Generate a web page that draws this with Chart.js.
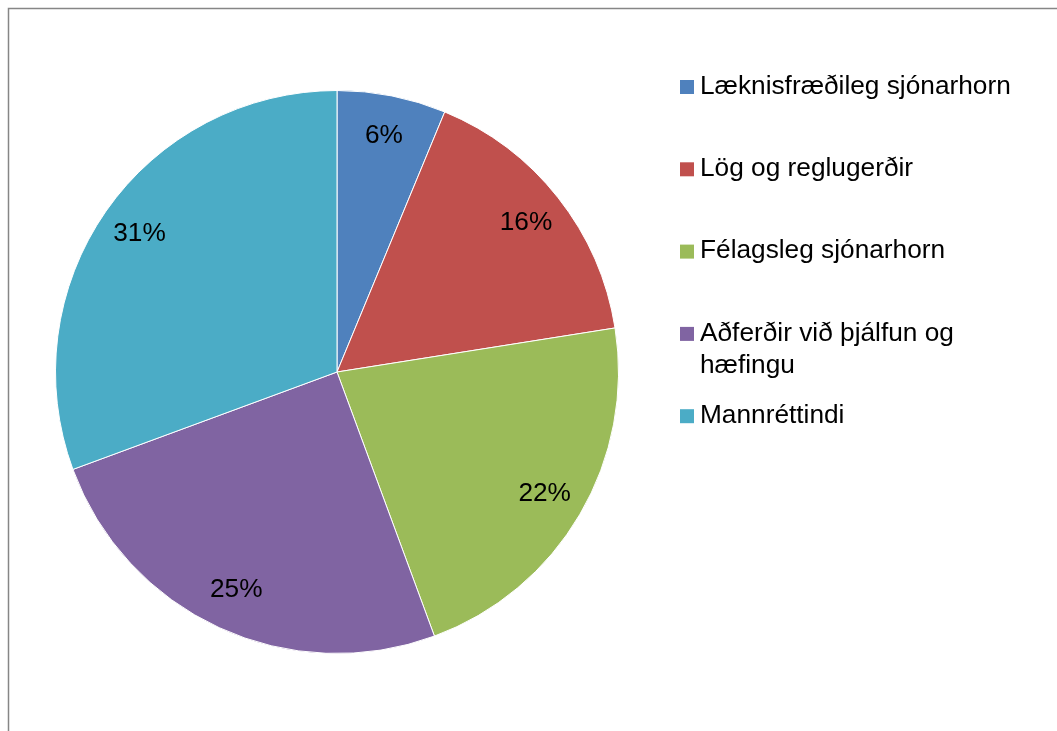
<!DOCTYPE html>
<html>
<head>
<meta charset="utf-8">
<script src="https://cdn.jsdelivr.net/npm/chart.js@4/dist/chart.umd.min.js"></script>
<style>
  html, body { margin: 0; padding: 0; background: #fff; }
  #wrap { width: 1057px; height: 731px; position: relative; }
</style>
</head>
<body>
<div id="wrap"><canvas id="grafico" width="1057" height="731"></canvas></div>
<script>
// Dados do gráfico
const flokkar = ['Læknisfræðileg sjónarhorn', 'Lög og reglugerðir', 'Félagsleg sjónarhorn', 'Aðferðir við þjálfun og hæfingu', 'Mannréttindi'];
const flokkarLinur = [['Læknisfræðileg sjónarhorn'], ['Lög og reglugerðir'], ['Félagsleg sjónarhorn'], ['Aðferðir við þjálfun og', 'hæfingu'], ['Mannréttindi']];
const gildi = [10, 26, 35, 40, 49];
const litir = ['#4F81BD', '#C0504D', '#9BBB59', '#8064A2', '#4BACC6'];

const leturgerd = '25px "Liberation Sans", Arial, sans-serif';
const teygja = 1.05; // letrið í frumritinu er aðeins breiðara

function skrifa(ctx, txt, x, y) {
    ctx.save();
    ctx.translate(x, y);
    ctx.scale(teygja, 1);
    ctx.fillText(txt, 0, 0);
    ctx.restore();
}

// Ramminn kringum myndina
const rammi = {
    id: 'rammi',
    beforeDraw(chart) {
        const ctx = chart.ctx;
        ctx.save();
        ctx.strokeStyle = '#868686';
        ctx.lineWidth = 1.5;
        ctx.strokeRect(8.5, 8.5, 1200, 900);
        ctx.restore();
    }
};

// Prósentur inni í sneiðunum
const prosentur = {
    id: 'prosentur',
    afterDatasetsDraw(chart) {
        const ctx = chart.ctx;
        const meta = chart.getDatasetMeta(0);
        const samtals = gildi.reduce((a, b) => a + b, 0);
        ctx.save();
        ctx.font = leturgerd;
        ctx.fillStyle = '#000';
        ctx.textAlign = 'center';
        ctx.textBaseline = 'middle';
        meta.data.forEach((arc, i) => {
            const p = arc.getProps(['x', 'y', 'startAngle', 'endAngle', 'outerRadius'], true);
            const mid = (p.startAngle + p.endAngle) / 2;
            const r = p.outerRadius * 0.855;
            const txt = Math.round(gildi[i] / samtals * 100) + '%';
            skrifa(ctx, txt, p.x + Math.cos(mid) * r, p.y + Math.sin(mid) * r);
        });
        ctx.restore();
    }
};

// Skýringar til hægri
const skyringar = {
    id: 'skyringar',
    afterDraw(chart) {
        const ctx = chart.ctx;
        ctx.save();
        ctx.font = leturgerd;
        ctx.textBaseline = 'middle';
        flokkarLinur.forEach((linur, i) => {
            const y = 87 + i * 82.3;
            ctx.fillStyle = litir[i];
            ctx.fillRect(680, y - 7, 14, 14);
            ctx.fillStyle = '#000';
            linur.forEach((lina, j) => {
                skrifa(ctx, lina, 700, y + j * 32);
            });
        });
        ctx.restore();
    }
};

const ctx = document.getElementById('grafico').getContext('2d');
new Chart(ctx, {
    type: 'pie',
    data: {
        labels: flokkar,
        datasets: [{
            data: gildi,
            backgroundColor: litir,
            borderColor: '#ffffff',
            borderWidth: 1
        }]
    },
    options: {
        responsive: false,
        animation: false,
        layout: {
            padding: { left: 55, right: 438, top: 90, bottom: 77 }
        },
        plugins: {
            legend: { display: false },
            tooltip: { enabled: false }
        }
    },
    plugins: [rammi, prosentur, skyringar]
});
</script>
</body>
</html>
